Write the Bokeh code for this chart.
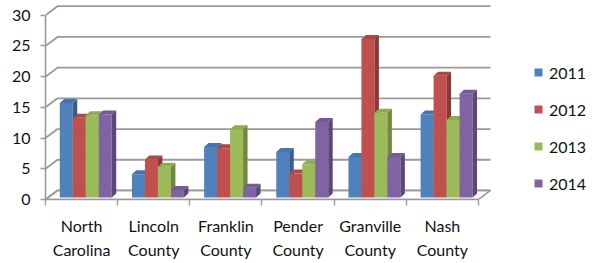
from bokeh.plotting import figure
from bokeh.models import Range1d, FixedTicker, Legend, LegendItem
from bokeh.embed import file_html
from bokeh.resources import INLINE

categories = ["North\nCarolina", "Lincoln\nCounty", "Franklin\nCounty",
              "Pender\nCounty", "Granville\nCounty", "Nash\nCounty"]
years = ["2011", "2012", "2013", "2014"]
y2011 = [15.4, 3.8, 8.2, 7.4, 6.6, 13.5]
y2012 = [13.0, 6.2, 8.0, 3.9, 25.8, 19.8]
y2013 = [13.4, 5.0, 11.1, 5.4, 13.8, 12.6]
y2014 = [13.5, 1.2, 1.6, 12.3, 6.6, 16.9]
y_ticks = [0, 5, 10, 15, 20, 25, 30]

series = [y2011, y2012, y2013, y2014]
front_colors = ["#4F81BD", "#C0504D", "#9BBB59", "#8064A2"]
top_colors = ["#4675AE", "#B04744", "#8DAB4F", "#735995"]
side_colors = ["#385D8A", "#8C3836", "#71893F", "#5C4776"]

FONT = "Lato"
GRID = "#9a9a9a"

p = figure(width=592, height=263, x_range=Range1d(0, 7.58), y_range=Range1d(0, 32.4),
           output_backend="svg", toolbar_location=None,
           min_border_left=45, min_border_right=0, min_border_top=0, min_border_bottom=64)
p.outline_line_color = None
p.grid.visible = False

n = len(categories)
DX, DY = 0.166, 1.47          # back-wall depth offset
X0, W = 0.198, 0.18           # bar placement inside a category
B = 0.33                      # bar base above front floor
BX, BY = 0.062, 0.65          # bar depth

# floor
p.patch([0, n, n + DX, DX], [0, 0, DY, DY], fill_color="#ffffff", line_color=GRID, line_width=1.6)
# back wall gridlines with left-wall diagonals
gx, gy = [], []
for v in y_ticks:
    gx.append([0, DX, n + DX])
    gy.append([v, v + DY, v + DY])
p.multi_line(gx, gy, line_color=GRID, line_width=1.8)

# bars
legend_items = []
for j, vals in enumerate(series):
    xc, tops = [], []
    txs, tys, sxs, sys_ = [], [], [], []
    for i, v in enumerate(vals):
        xl = i + X0 + j * W
        xr = xl + W
        t = v + B
        xc.append(xl + W / 2)
        tops.append(t)
        txs.append([xl, xr, xr + BX, xl + BX])
        tys.append([t, t, t + BY, t + BY])
        sxs.append([xr, xr + BX, xr + BX, xr])
        sys_.append([B, B + BY, t + BY, t])
    r = p.vbar(x=xc, width=W, top=tops, bottom=B, fill_color=front_colors[j], line_color=None)
    p.patches(txs, tys, fill_color=top_colors[j], line_color=None)
    p.patches(sxs, sys_, fill_color=side_colors[j], line_color=None)
    legend_items.append(LegendItem(label=years[j], renderers=[r]))

# x axis
xa = p.xaxis[0]
xa.ticker = FixedTicker(ticks=[i + 0.5 for i in range(n)], minor_ticks=list(range(n + 1)))
xa.major_label_overrides = {i + 0.5: c for i, c in enumerate(categories)}
xa.bounds = (0, n)
xa.major_tick_out = 0
xa.major_tick_in = 0
xa.minor_tick_out = 6
xa.minor_tick_in = 0
xa.minor_tick_line_color = GRID
xa.minor_tick_line_width = 1.4
xa.axis_line_color = GRID
xa.axis_line_width = 1.6
xa.major_label_text_font = FONT
xa.major_label_text_font_size = "16px"
xa.major_label_text_color = "#111111"
xa.major_label_text_line_height = 1.3
xa.major_label_standoff = 10

# y axis
ya = p.yaxis[0]
ya.ticker = FixedTicker(ticks=y_ticks)
ya.bounds = (0, 30)
ya.major_tick_out = 5
ya.major_tick_in = 0
ya.minor_tick_out = 0
ya.minor_tick_in = 0
ya.major_tick_line_color = GRID
ya.major_tick_line_width = 1.4
ya.axis_line_color = GRID
ya.axis_line_width = 1.6
ya.major_label_text_font = FONT
ya.major_label_text_font_size = "16px"
ya.major_label_text_color = "#111111"
ya.major_label_standoff = 10

legend = Legend(items=legend_items, location=(488, 6), glyph_width=10, glyph_height=10,
                label_height=20, spacing=17, padding=0, margin=0, border_line_color=None,
                background_fill_alpha=0, label_text_font=FONT, label_text_font_size="16px",
                label_text_color="#111111", label_standoff=6)
p.add_layout(legend)

open("out.html", "w").write(file_html(p, INLINE))
